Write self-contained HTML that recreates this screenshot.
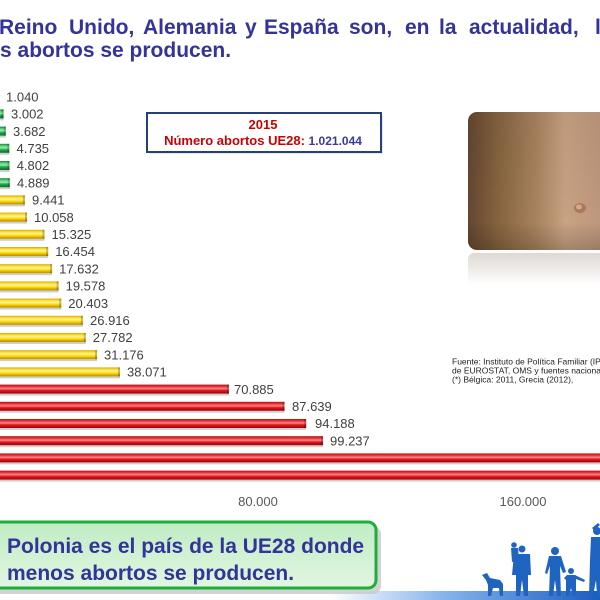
<!DOCTYPE html>
<html><head><meta charset="utf-8"><style>
html,body{margin:0;padding:0;background:#fff;}
#c{position:relative;width:600px;height:600px;overflow:hidden;background:#fff;}
svg{position:absolute;left:0;top:0;}
</style></head><body><div id="c">
<svg width="600" height="600" viewBox="0 0 600 600" xmlns="http://www.w3.org/2000/svg">
<defs>
<linearGradient id="gG" x1="0" y1="0" x2="0" y2="1">
<stop offset="0" stop-color="#0f8a3a"/><stop offset="0.25" stop-color="#5fd47f"/><stop offset="0.45" stop-color="#9be8aa"/><stop offset="0.65" stop-color="#22ad4c"/><stop offset="1" stop-color="#0a6a2a"/></linearGradient>
<linearGradient id="gY" x1="0" y1="0" x2="0" y2="1">
<stop offset="0" stop-color="#d9a800"/><stop offset="0.25" stop-color="#ffe640"/><stop offset="0.45" stop-color="#fff39a"/><stop offset="0.65" stop-color="#ffd800"/><stop offset="1" stop-color="#b88a00"/></linearGradient>
<linearGradient id="gR" x1="0" y1="0" x2="0" y2="1">
<stop offset="0" stop-color="#b80d15"/><stop offset="0.25" stop-color="#ee3a3f"/><stop offset="0.45" stop-color="#f58a8a"/><stop offset="0.65" stop-color="#e3161e"/><stop offset="1" stop-color="#9e0008"/></linearGradient>
<linearGradient id="gPhoto" x1="0" y1="0" x2="1" y2="0">
<stop offset="0" stop-color="#654630"/><stop offset="0.2" stop-color="#85633f"/><stop offset="0.45" stop-color="#a8825e"/><stop offset="0.65" stop-color="#c8a282"/><stop offset="1" stop-color="#b8907a"/></linearGradient>
<linearGradient id="gPhotoV" x1="0" y1="0" x2="0" y2="1">
<stop offset="0" stop-color="#000" stop-opacity="0.05"/><stop offset="0.8" stop-color="#000" stop-opacity="0"/><stop offset="1" stop-color="#000" stop-opacity="0.18"/></linearGradient>
<linearGradient id="gRefl" x1="0" y1="0" x2="0" y2="1">
<stop offset="0" stop-color="#d0c8c0"/><stop offset="1" stop-color="#ffffff"/></linearGradient>
<linearGradient id="gBox" x1="0" y1="0" x2="0" y2="1">
<stop offset="0" stop-color="#bfecc4"/><stop offset="1" stop-color="#e2f6e2"/></linearGradient>
<linearGradient id="gGround" x1="0" y1="0" x2="1" y2="0">
<stop offset="0" stop-color="#ffffff"/><stop offset="0.4" stop-color="#8ab8ee"/><stop offset="1" stop-color="#1a5cc0"/></linearGradient>
</defs>

<!-- title -->
<g font-family="Liberation Sans, Arial, sans-serif" font-weight="bold" font-size="21" fill="#333399">
<text x="-1" y="34">Reino</text>
<text x="69" y="34">Unido,</text>
<text x="143" y="34">Alemania</text>
<text x="245" y="34">y</text>
<text x="264" y="34">España</text>
<text x="349" y="34">son,</text>
<text x="405" y="34">en</text>
<text x="439" y="34">la</text>
<text x="469" y="34">actualidad,</text>
<text x="595" y="34">los</text>
<text x="0" y="57">s abortos se producen.</text>
</g>

<!-- photo -->
<rect x="468" y="112" width="150" height="138" rx="9" fill="url(#gPhoto)"/>
<rect x="468" y="112" width="150" height="138" rx="9" fill="url(#gPhotoV)"/>
<ellipse cx="580" cy="208" rx="6" ry="5" fill="#a87a5c"/>
<ellipse cx="579" cy="207" rx="3" ry="2.5" fill="#d8a888"/>
<rect x="468" y="253" width="150" height="32" rx="6" fill="url(#gRefl)" opacity="0.7"/>

<!-- info box -->
<rect x="149" y="115" width="234" height="39" fill="#d8d8d8" opacity="0.6"/>
<rect x="147" y="113" width="234" height="39" fill="#fff" stroke="#24417a" stroke-width="2"/>
<g font-family="Liberation Sans, Arial, sans-serif" font-weight="bold" text-anchor="middle">
<text x="263" y="129" font-size="13" fill="#cc0000">2015</text>
<text x="263" y="145" font-size="13" fill="#cc0000">Número abortos UE28: <tspan fill="#3a3a9a" font-size="12">1.021.044</tspan></text>
</g>

<!-- bars -->
<g id="bars">
<g fill="#cfcfcf">
<rect x="-10" y="101.2" width="7.1" height="2"/>
<rect x="-10" y="118.4" width="13.6" height="2"/>
<rect x="-10" y="135.6" width="15.8" height="2"/>
<rect x="-10" y="152.8" width="19.3" height="2"/>
<rect x="-10" y="170" width="19.5" height="2"/>
<rect x="-10" y="187.2" width="19.8" height="2"/>
<rect x="-10" y="204.4" width="34.9" height="2"/>
<rect x="-10" y="221.6" width="37" height="2"/>
<rect x="-10" y="238.8" width="54.5" height="2"/>
<rect x="-10" y="256" width="58.2" height="2"/>
<rect x="-10" y="273.2" width="62.1" height="2"/>
<rect x="-10" y="290.4" width="68.6" height="2"/>
<rect x="-10" y="307.6" width="71.3" height="2"/>
<rect x="-10" y="324.8" width="92.9" height="2"/>
<rect x="-10" y="342" width="95.8" height="2"/>
<rect x="-10" y="359.2" width="107.1" height="2"/>
<rect x="-10" y="376.4" width="130" height="2"/>
<rect x="-10" y="393.6" width="238.9" height="2"/>
<rect x="-10" y="410.8" width="294.5" height="2"/>
<rect x="-10" y="428" width="316.2" height="2"/>
<rect x="-10" y="445.2" width="333" height="2"/>
<rect x="-10" y="462.4" width="630" height="2"/>
<rect x="-10" y="479.6" width="630" height="2"/>
</g>
<g fill="url(#gG)">
<rect x="-10" y="92.2" width="7.1" height="9"/>
<rect x="-10" y="109.4" width="13.6" height="9"/>
<rect x="-10" y="126.6" width="15.8" height="9"/>
<rect x="-10" y="143.8" width="19.3" height="9"/>
<rect x="-10" y="161" width="19.5" height="9"/>
<rect x="-10" y="178.2" width="19.8" height="9"/>
</g>
<g fill="url(#gY)">
<rect x="-10" y="195.4" width="34.9" height="9"/>
<rect x="-10" y="212.6" width="37" height="9"/>
<rect x="-10" y="229.8" width="54.5" height="9"/>
<rect x="-10" y="247" width="58.2" height="9"/>
<rect x="-10" y="264.2" width="62.1" height="9"/>
<rect x="-10" y="281.4" width="68.6" height="9"/>
<rect x="-10" y="298.6" width="71.3" height="9"/>
<rect x="-10" y="315.8" width="92.9" height="9"/>
<rect x="-10" y="333" width="95.8" height="9"/>
<rect x="-10" y="350.2" width="107.1" height="9"/>
<rect x="-10" y="367.4" width="130" height="9"/>
</g>
<g fill="url(#gR)">
<rect x="-10" y="384.6" width="238.9" height="9"/>
<rect x="-10" y="401.8" width="294.5" height="9"/>
<rect x="-10" y="419" width="316.2" height="9"/>
<rect x="-10" y="436.2" width="333" height="9"/>
<rect x="-10" y="453.4" width="630" height="9"/>
<rect x="-10" y="470.6" width="630" height="9"/>
</g>
<g fill="#000" opacity="0.22">
<rect x="1.6" y="109.4" width="2" height="9"/>
<rect x="3.8" y="126.6" width="2" height="9"/>
<rect x="7.3" y="143.8" width="2" height="9"/>
<rect x="7.5" y="161" width="2" height="9"/>
<rect x="7.8" y="178.2" width="2" height="9"/>
<rect x="22.9" y="195.4" width="2" height="9"/>
<rect x="25" y="212.6" width="2" height="9"/>
<rect x="42.5" y="229.8" width="2" height="9"/>
<rect x="46.2" y="247" width="2" height="9"/>
<rect x="50.1" y="264.2" width="2" height="9"/>
<rect x="56.6" y="281.4" width="2" height="9"/>
<rect x="59.3" y="298.6" width="2" height="9"/>
<rect x="80.9" y="315.8" width="2" height="9"/>
<rect x="83.8" y="333" width="2" height="9"/>
<rect x="95.1" y="350.2" width="2" height="9"/>
<rect x="118" y="367.4" width="2" height="9"/>
<rect x="226.9" y="384.6" width="2" height="9"/>
<rect x="282.5" y="401.8" width="2" height="9"/>
<rect x="304.2" y="419" width="2" height="9"/>
<rect x="321" y="436.2" width="2" height="9"/>
</g>
</g>

<!-- value labels -->
<g font-family="Liberation Sans, Arial, sans-serif" font-size="13" fill="#404040">
<text x="6" y="101.4">1.040</text>
<text x="11" y="118.6">3.002</text>
<text x="13" y="135.8">3.682</text>
<text x="16.5" y="153">4.735</text>
<text x="16.7" y="170.2">4.802</text>
<text x="17" y="187.4">4.889</text>
<text x="32" y="204.6">9.441</text>
<text x="34" y="221.8">10.058</text>
<text x="51.5" y="239">15.325</text>
<text x="55.2" y="256.2">16.454</text>
<text x="59.1" y="273.4">17.632</text>
<text x="65.6" y="290.6">19.578</text>
<text x="68.3" y="307.8">20.403</text>
<text x="90" y="325">26.916</text>
<text x="92.8" y="342.2">27.782</text>
<text x="104" y="359.4">31.176</text>
<text x="127" y="376.6">38.071</text>
<text x="234" y="393.8">70.885</text>
<text x="292" y="411">87.639</text>
<text x="315" y="428.2">94.188</text>
<text x="330" y="445.4">99.237</text>
</g>

<!-- axis labels -->
<g font-family="Liberation Sans, Arial, sans-serif" font-size="13" fill="#595959" text-anchor="middle">
<text x="258" y="506">80.000</text>
<text x="523" y="506">160.000</text>
</g>

<!-- source -->
<g font-family="Liberation Sans, Arial, sans-serif" font-size="8.5" fill="#222">
<text x="452" y="364.5">Fuente: Instituto de Política Familiar (IPF) a partir de datos</text>
<text x="452" y="373.5">de EUROSTAT, OMS y fuentes nacionales</text>
<text x="452" y="382.5">(*) Bélgica: 2011, Grecia (2012),</text>
</g>

<!-- ground -->
<rect x="330" y="591" width="270" height="9" fill="url(#gGround)"/>

<!-- silhouettes -->
<g fill="#1e64c0">
<path d="M482 575 L487 573 L490 578 L500 580 L503 584 L503 596 L500 596 L499 588 L493 588 L491 596 L488 596 L488 585 L486 580 Z"/>
<circle cx="522" cy="549" r="3.5"/>
<path d="M514 554 L530 554 L531 575 L528 575 L528 596 L524 596 L522 580 L520 596 L516 596 L516 575 L512 575 Z"/>
<circle cx="514" cy="545" r="2.8"/>
<path d="M511 548 L518 548 L519 560 L512 562 Z"/>
<circle cx="555" cy="551" r="4"/>
<path d="M549 556 L561 556 L566 572 L563 573 L560 566 L561 596 L557 596 L555 580 L553 596 L549 596 L550 566 L547 574 L545 573 Z"/>
<circle cx="571" cy="571" r="3"/>
<path d="M567 575 L575 575 L585 580 L584 582 L576 579 L576 596 L573 596 L571 588 L569 596 L566 596 L566 580 L564 578 Z"/>
<circle cx="597" cy="531" r="4"/>
<path d="M591 537 L605 537 L605 596 L597 596 L596 580 L593 596 L589 596 L590 560 Z"/>
<path d="M592 528 L598 523 L600 525 L594 530 Z"/>
</g>

<!-- green box -->
<rect x="-10" y="526" width="391" height="68" rx="8" fill="#c8c8c8" opacity="0.8"/>
<rect x="-10" y="522" width="386" height="66" rx="8" fill="url(#gBox)" stroke="#1fae3c" stroke-width="3"/>
<g font-family="Liberation Sans, Arial, sans-serif" font-weight="bold" font-size="21" fill="#333399">
<text x="7" y="553">Polonia es el país de la UE28 donde</text>
<text x="7" y="580">menos abortos se producen.</text>
</g>
</svg>
</div></body></html>
